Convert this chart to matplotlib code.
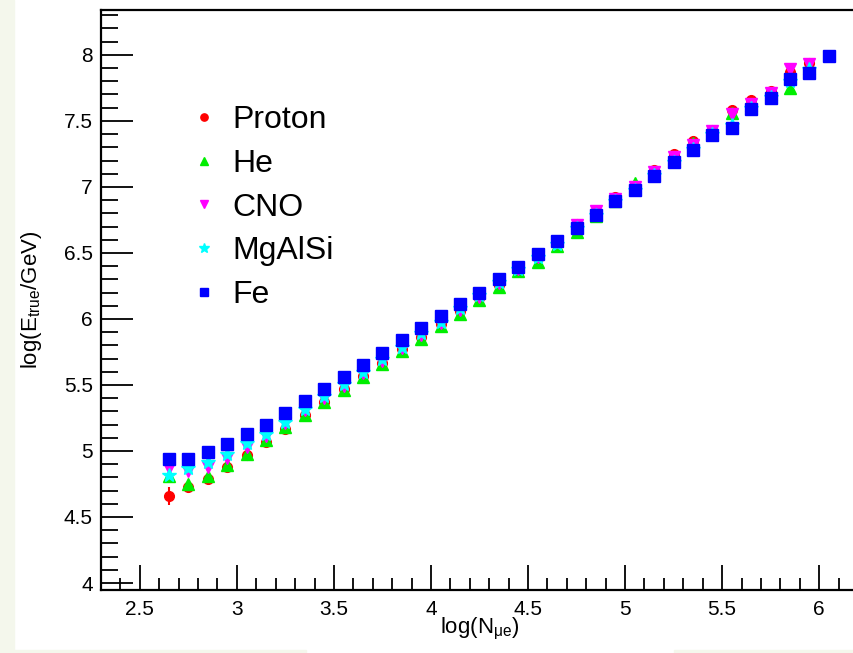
import numpy as np
import matplotlib
matplotlib.use("Agg")
import matplotlib.pyplot as plt
from matplotlib.ticker import MultipleLocator
from matplotlib.lines import Line2D
from matplotlib.patches import Rectangle

plt.rcParams['font.family'] = ['Liberation Sans', 'DejaVu Sans']
plt.rcParams['mathtext.fontset'] = 'custom'
plt.rcParams['mathtext.rm'] = 'Liberation Sans'
plt.rcParams['mathtext.it'] = 'Liberation Sans'

# log10(N_mu_e) bin centres
x_fe = np.round(np.arange(2.65, 6.06, 0.1), 2)
x_light = x_fe[:-1]

proton = [4.66, 4.73, 4.79, 4.88, 4.97, 5.07, 5.17, 5.27, 5.37, 5.47, 5.57, 5.67,
          5.77, 5.86, 5.96, 6.06, 6.16, 6.26, 6.37, 6.46, 6.57, 6.72, 6.82, 6.92,
          7.01, 7.13, 7.25, 7.35, 7.43, 7.58, 7.66, 7.73, 7.87, 7.94]
proton_err = [0.07, 0.03, 0.02, 0.02, 0.02, 0.01, 0.01, 0.01, 0.01, 0.01, 0.01, 0.01,
              0.01, 0.01, 0.01, 0.01, 0.01, 0.01, 0.01, 0.01, 0.01, 0.01, 0.01, 0.01,
              0.01, 0.01, 0.01, 0.01, 0.01, 0.01, 0.01, 0.01, 0.01, 0.01]
he = [4.81, 4.75, 4.81, 4.89, 4.98, 5.08, 5.18, 5.27, 5.37, 5.46, 5.56, 5.66,
      5.76, 5.85, 5.95, 6.04, 6.14, 6.24, 6.36, 6.43, 6.55, 6.66, 6.78, 6.89,
      7.03, 7.10, 7.20, 7.33, 7.41, 7.56, 7.62, 7.70, 7.75, 7.90]
cno = [4.87, 4.85, 4.88, 4.95, 5.03, 5.11, 5.21, 5.31, 5.40, 5.49, 5.59, 5.68,
       5.78, 5.88, 5.97, 6.07, 6.17, 6.27, 6.38, 6.47, 6.58, 6.71, 6.82, 6.91,
       7.00, 7.11, 7.23, 7.32, 7.42, 7.55, 7.63, 7.71, 7.89, 7.93]
mgalsi = [4.82, 4.87, 4.92, 4.98, 5.06, 5.13, 5.22, 5.32, 5.42, 5.51, 5.60, 5.70,
          5.79, 5.89, 5.98, 6.08, 6.18, 6.28, 6.38, 6.47, 6.57, 6.69, 6.79, 6.89,
          6.98, 7.09, 7.19, 7.29, 7.40, 7.47, 7.60, 7.68, 7.80, 7.89]
fe = [4.94, 4.94, 4.99, 5.05, 5.13, 5.20, 5.29, 5.38, 5.47, 5.56, 5.65, 5.74,
      5.84, 5.93, 6.02, 6.11, 6.20, 6.30, 6.39, 6.49, 6.59, 6.69, 6.79, 6.89,
      6.98, 7.08, 7.19, 7.28, 7.39, 7.45, 7.59, 7.67, 7.82, 7.86, 7.99]

labels = ['Proton', 'He', 'CNO', 'MgAlSi', 'Fe']
colors = ['#ff0000', '#00ee00', '#ff00ff', '#00ffff', '#0000ff']
markers = ['o', '^', 'v', '*', 's']
sizes = [7, 8, 8, 10, 8]

fig = plt.figure(figsize=(8.54, 6.53), dpi=100)
# page background showing at the edges
fig.patches.append(Rectangle((0, 0), 14 / 854, 1, transform=fig.transFigure,
                             color='#f4f7ec', zorder=0))
fig.patches.append(Rectangle((0, 0), 306 / 854, 3 / 653, transform=fig.transFigure,
                             color='#f4f7ec', zorder=0))
fig.patches.append(Rectangle((674 / 854, 0), 180 / 854, 3 / 653, transform=fig.transFigure,
                             color='#f4f7ec', zorder=0))

ax = fig.add_axes([101 / 854, 63 / 653, 757 / 854, 580 / 653])

series = [(x_light, proton), (x_light, he), (x_light, cno), (x_light, mgalsi), (x_fe, fe)]
for i, (xs, ys) in enumerate(series):
    if i == 0:
        ax.errorbar(xs, ys, yerr=proton_err, fmt=markers[i], color=colors[i],
                    ms=sizes[i], mec=colors[i], elinewidth=1.5, capsize=0, zorder=2 + i)
    else:
        ax.plot(xs, ys, markers[i], color=colors[i], ms=sizes[i], mec=colors[i],
                zorder=2 + i)

ax.set_xlim(2.3, 6.2)
ax.set_ylim(3.947, 8.34)

ax.xaxis.set_major_locator(MultipleLocator(0.5))
ax.xaxis.set_minor_locator(MultipleLocator(0.1))
ax.yaxis.set_major_locator(MultipleLocator(0.5))
ax.yaxis.set_minor_locator(MultipleLocator(0.1))
ax.set_xticks([2.5, 3, 3.5, 4, 4.5, 5, 5.5, 6])
ax.set_xticklabels(['2.5', '3', '3.5', '4', '4.5', '5', '5.5', '6'])
ax.set_yticks([4, 4.5, 5, 5.5, 6, 6.5, 7, 7.5, 8])
ax.set_yticklabels(['4', '4.5', '5', '5.5', '6', '6.5', '7', '7.5', '8'])

ax.tick_params(axis='x', which='major', direction='in', length=18, width=1.3,
               labelsize=15, pad=7, top=False)
ax.tick_params(axis='x', which='minor', direction='in', length=9, width=1.3, top=False)
ax.tick_params(axis='y', which='major', direction='in', length=23, width=1.3,
               labelsize=15, pad=6, right=False)
ax.tick_params(axis='y', which='minor', direction='in', length=12, width=1.3, right=False)
for s in ax.spines.values():
    s.set_linewidth(1.6)

ax.set_xlabel(r'log(N$_{\mu e}$)', fontsize=16, labelpad=-2)
ax.set_ylabel(r'log(E$_{true}$/GeV)', fontsize=16, labelpad=14)

handles = [Line2D([], [], ls='none', marker=m, color=c, mec=c, ms=s * 0.75)
           for m, c, s in zip(markers, colors, sizes)]
ax.legend(handles, labels, loc='upper left', bbox_to_anchor=(0.102, 0.858),
          frameon=False, fontsize=23, handlelength=0.8, handletextpad=0.5,
          labelspacing=0.43, borderaxespad=0)

fig.savefig('out.png', dpi=100)
